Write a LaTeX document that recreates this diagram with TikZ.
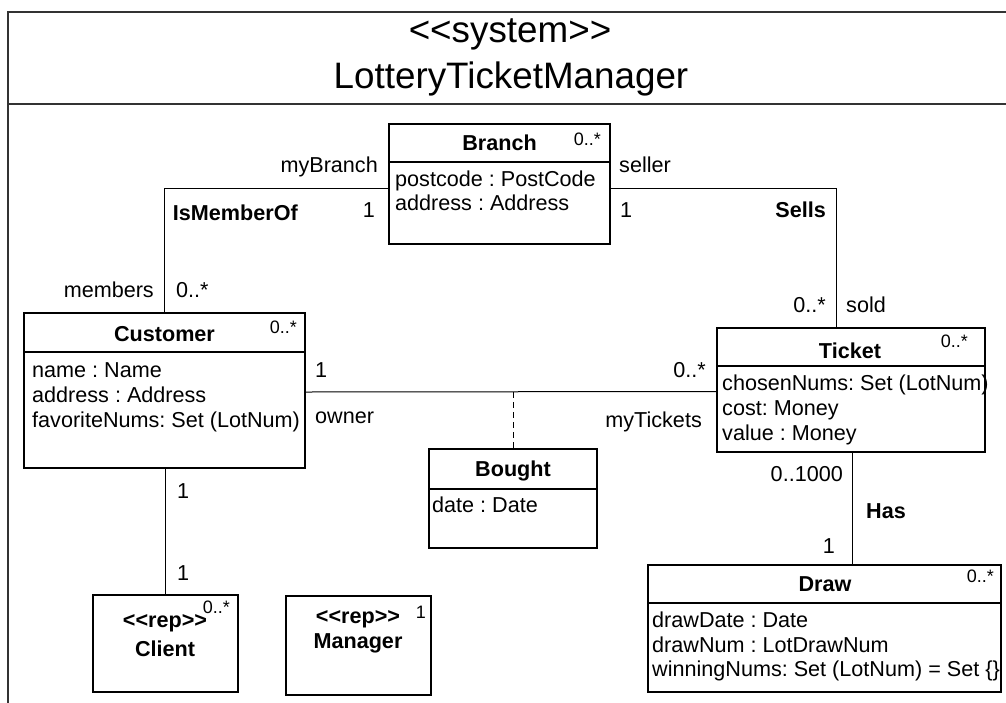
\documentclass[tikz,border=0pt]{standalone}
\usepackage{fontspec}
\setmainfont{Liberation Sans}[Ligatures=TeXOff]
\frenchspacing
\begin{document}
\frenchspacing
\begin{tikzpicture}[x=1pt,y=-1pt,
  cls/.style={draw, line width=1.4pt, inner sep=0pt, outer sep=0pt},
  sep/.style={line width=1.4pt},
  assoc/.style={line width=1pt},
  frame/.style={line width=2pt, black!80},
  txt/.style={inner sep=0pt, font=\fontsize{21.6}{25}\selectfont},
  btxt/.style={inner sep=0pt, font=\fontsize{21.6}{25}\selectfont\bfseries},
  mult/.style={inner sep=0pt, font=\fontsize{18}{21}\selectfont},
  ttl/.style={inner sep=0pt, font=\fontsize{36.8}{40}\selectfont}]
\useasboundingbox (0,0) rectangle (1006,702);

% system frame with its title compartment
\draw[frame] (1012,12) -- (8,12) -- (8,708);
\draw[frame] (8,104) -- (1012,104);
\node[ttl, anchor=base] (stereo) at (510,42) {<<system>>};
\node[ttl, anchor=base] (sysname) at (511,88) {LotteryTicketManager};

% classes
\node[cls, minimum width=221pt, minimum height=120pt] (branch) at (499.5,184) {};
\node[cls, minimum width=281pt, minimum height=155pt] (customer) at (164.5,390.5) {};
\node[cls, minimum width=268pt, minimum height=124pt] (ticket) at (851,390) {};
\node[cls, minimum width=168pt, minimum height=99pt] (bought) at (513,498.5) {};
\node[cls, minimum width=353pt, minimum height=127pt] (draw) at (824.5,628.5) {};
\node[cls, minimum width=145pt, minimum height=97pt] (client) at (165.5,643.5) {};
\node[cls, minimum width=145pt, minimum height=99pt] (manager) at (358.5,645.5) {};

% header separators
\draw[sep] (branch.west |- 0,162) -- (branch.east |- 0,162);
\draw[sep] (customer.west |- 0,352) -- (customer.east |- 0,352);
\draw[sep] (ticket.west |- 0,366) -- (ticket.east |- 0,366);
\draw[sep] (bought.west |- 0,489) -- (bought.east |- 0,489);
\draw[sep] (draw.west |- 0,603) -- (draw.east |- 0,603);

% class names and instance multiplicities
\node[btxt, anchor=base] (branchname) at (499.5,150) {Branch};
\node[mult, anchor=base east] (branchmult) at (601,145) {0..*};
\node[btxt, anchor=base] (customername) at (164.5,341) {Customer};
\node[mult, anchor=base east] (customermult) at (297,333) {0..*};
\node[btxt, anchor=base] (ticketname) at (850,358) {Ticket};
\node[mult, anchor=base east] (ticketmult) at (968,347) {0..*};
\node[btxt, anchor=base] (boughtname) at (513,476) {Bought};
\node[btxt, anchor=base] (drawname) at (825,591) {Draw};
\node[mult, anchor=base east] (drawmult) at (994,582) {0..*};
\node[btxt, anchor=base] (clientst) at (165,627) {<<rep>>};
\node[btxt, anchor=base] (clientname) at (165,656) {Client};
\node[mult, anchor=base east] (clientmult) at (230,613) {0..*};
\node[btxt, anchor=base] (managerst) at (358,623) {<<rep>>};
\node[btxt, anchor=base] (managername) at (358,648) {Manager};
\node[mult, anchor=base east] (managermult) at (426,618) {1};

% attributes
\node[txt, anchor=base west] (ba1) at (395,186) {postcode : PostCode};
\node[txt, anchor=base west] (ba2) at (395,210) {address : Address};
\node[txt, anchor=base west] (ca1) at (32,377) {name : Name};
\node[txt, anchor=base west] (ca2) at (32,402) {address : Address};
\node[txt, anchor=base west] (ca3) at (32,427) {favoriteNums: Set (LotNum)};
\node[txt, anchor=base west] (ta1) at (722,390) {chosenNums: Set (LotNum)};
\node[txt, anchor=base west] (ta2) at (722,415) {cost: Money};
\node[txt, anchor=base west] (ta3) at (722,440) {value : Money};
\node[txt, anchor=base west] (boa1) at (432,512) {date : Date};
\node[txt, anchor=base west] (da1) at (652,627) {drawDate : Date};
\node[txt, anchor=base west] (da2) at (652,652) {drawNum : LotDrawNum};
\node[txt, anchor=base west] (da3) at (652,676) {winningNums: Set (LotNum) = Set \{\}};

% associations
\draw[assoc] ([yshift=-4pt]branch.west) -| (customer.north);
\draw[assoc] ([yshift=-4pt]branch.east) -| ([xshift=-15pt]ticket.north);
\draw[assoc] ([yshift=-1.5pt]customer.east) -- ([yshift=-1.5pt]ticket.west);
\coordinate (boughtlink) at (513,392);
\draw[assoc, dash pattern=on 6pt off 4pt] (boughtlink) -- (bought.north);
\draw[assoc] ([xshift=1pt]ticket.south) -- ([xshift=1pt]ticket.south |- draw.north);
\draw[assoc] (client.north) -- (client.north |- customer.south);

% association ends and names
\node[txt, anchor=base east] (myBranch) at (378,172) {myBranch};
\node[txt, anchor=base east] (bm1) at (375,217) {1};
\node[btxt, anchor=base east] (ismember) at (298,220) {IsMemberOf};
\node[txt, anchor=base east] (members) at (154,297) {members};
\node[txt, anchor=base west] (membersmult) at (176,297) {0..*};
\node[txt, anchor=base west] (seller) at (619,172) {seller};
\node[txt, anchor=base west] (bs1) at (620,217) {1};
\node[btxt, anchor=base east] (sells) at (826,217) {Sells};
\node[txt, anchor=base east] (soldmult) at (826,312) {0..*};
\node[txt, anchor=base west] (sold) at (846,312) {sold};
\node[txt, anchor=base west] (owner1) at (315,377) {1};
\node[txt, anchor=base west] (owner) at (315,423) {owner};
\node[txt, anchor=base east] (mytmult) at (706,377) {0..*};
\node[txt, anchor=base east] (mytickets) at (702,427) {myTickets};
\node[txt, anchor=base east] (hasmult) at (843,481) {0..1000};
\node[btxt, anchor=base west] (has) at (866,518) {Has};
\node[txt, anchor=base east] (has1) at (835,553) {1};
\node[txt, anchor=base west] (cc1) at (177,498) {1};
\node[txt, anchor=base west] (cc2) at (177,580) {1};
\end{tikzpicture}
\end{document}
